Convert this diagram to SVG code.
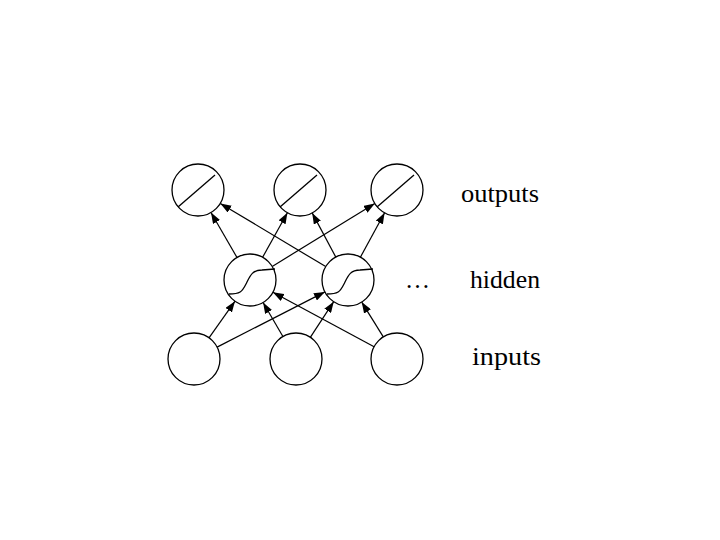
<svg xmlns="http://www.w3.org/2000/svg" width="720" height="540" viewBox="0 0 720 540">
<style>
.node{fill:#fff;stroke:#000;stroke-width:1.3}
.glyph{fill:none;stroke:#000;stroke-width:1.3}
.edge{stroke:#000;stroke-width:1.2;fill:none;marker-end:url(#ah)}
.lbl{font-family:"Liberation Serif","Times New Roman",serif;font-size:26px;fill:#000}
</style>
<defs>
<marker id="ah" markerUnits="userSpaceOnUse" markerWidth="12" markerHeight="8" refX="11" refY="4" orient="auto">
<path d="M0,0 L11,4 L0,8 Z" fill="#000"/>
</marker>
</defs>
<rect width="720" height="540" fill="#fff"/>
<g id="connectors">
<line class="edge" x1="209.0" y1="337.8" x2="235.0" y2="301.2"/>
<line class="edge" x1="217.1" y1="347.1" x2="324.9" y2="291.9"/>
<line class="edge" x1="282.9" y1="336.5" x2="263.1" y2="302.5"/>
<line class="edge" x1="310.3" y1="337.3" x2="333.7" y2="301.7"/>
<line class="edge" x1="374.1" y1="346.7" x2="272.9" y2="292.3"/>
<line class="edge" x1="383.3" y1="336.9" x2="361.7" y2="302.1"/>
<line class="edge" x1="237.0" y1="257.5" x2="211.0" y2="212.5"/>
<line class="edge" x1="262.6" y1="257.3" x2="287.4" y2="212.7"/>
<line class="edge" x1="272.2" y1="266.4" x2="374.8" y2="203.6"/>
<line class="edge" x1="325.7" y1="266.6" x2="220.3" y2="203.4"/>
<line class="edge" x1="335.8" y1="257.1" x2="312.2" y2="212.9"/>
<line class="edge" x1="360.4" y1="257.2" x2="384.6" y2="212.8"/>
</g>
<g id="out1" transform="translate(198,190)"><circle class="node" r="26"/><line class="glyph" x1="-20" y1="17" x2="17" y2="-15"/></g>
<g id="out2" transform="translate(300,190)"><circle class="node" r="26"/><line class="glyph" x1="-20" y1="17" x2="17" y2="-15"/></g>
<g id="out3" transform="translate(397,190)"><circle class="node" r="26"/><line class="glyph" x1="-20" y1="17" x2="17" y2="-15"/></g>
<g id="hid1" transform="translate(250,280)"><circle class="node" r="26"/><path class="glyph" d="M-21,14 C-10,14 -8,12 -4,4 S2,-10 12,-10 L25,-11"/></g>
<g id="hid2" transform="translate(348,280)"><circle class="node" r="26"/><path class="glyph" d="M-21,14 C-10,14 -8,12 -4,4 S2,-10 12,-10 L25,-11"/></g>
<g id="in1" transform="translate(194,359)"><circle class="node" r="26"/></g>
<g id="in2" transform="translate(296,359)"><circle class="node" r="26"/></g>
<g id="in3" transform="translate(397,359)"><circle class="node" r="26"/></g>
<g id="labels">
<text class="lbl" x="461" y="201.5" textLength="78" lengthAdjust="spacingAndGlyphs">outputs</text>
<text class="lbl" x="470" y="288" textLength="70" lengthAdjust="spacingAndGlyphs">hidden</text>
<text class="lbl" x="472" y="365" textLength="69" lengthAdjust="spacingAndGlyphs">inputs</text>
<text class="lbl" x="405" y="288" textLength="25" lengthAdjust="spacingAndGlyphs">…</text>
</g>
</svg>
